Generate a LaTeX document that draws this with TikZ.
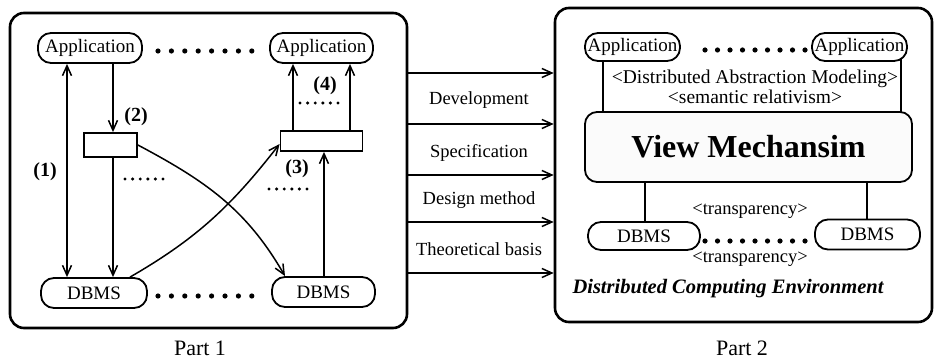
\documentclass[tikz,border=0pt]{standalone}
\usepackage{fontspec}
\setmainfont{Liberation Serif}
\usetikzlibrary{arrows.meta,backgrounds}
\begin{document}
\begin{tikzpicture}[x=1pt,y=-1pt,
  pill/.style={draw, line width=1.8pt, rounded corners=13pt, inner sep=0pt, fill=white,
    minimum height=30pt, font=\fontsize{19}{21}\selectfont},
  outer/.style={draw, line width=2.6pt, rounded corners=14pt, inner sep=0pt},
  plainbox/.style={draw, line width=1.8pt, inner sep=0pt},
  arr/.style={line width=1.5pt, -{Straight Barb[length=10pt,width=9pt,line width=1.5pt]}},
  dblarr/.style={line width=1.5pt, {Straight Barb[length=10pt,width=9pt,line width=1.5pt]}-{Straight Barb[length=10pt,width=9pt,line width=1.5pt]}},
  conn/.style={line width=2.2pt},
  bigdots/.style={line width=5.2pt, line cap=round, dash pattern=on 0pt off 13.4pt},
  bigdotsb/.style={line width=5.2pt, line cap=round, dash pattern=on 0pt off 12.5pt},
  smalldots/.style={line width=3.4pt, line cap=round, dash pattern=on 0pt off 7.6pt},
  lbl/.style={font=\fontsize{18.5}{20}\selectfont, inner sep=0pt},
  num/.style={font=\bfseries\fontsize{20}{22}\selectfont, inner sep=0pt},
]
\useasboundingbox (0,0) rectangle (937,361);

% outer boxes
\node[outer, minimum width=397pt, minimum height=315pt] (p1) at (208.5,170.5) {};
\node[outer, minimum width=377pt, minimum height=314pt] (p2) at (743.5,165) {};
\node[font=\fontsize{22}{24}\selectfont, inner sep=0pt] (part1) at (200,348) {Part 1};
\node[font=\fontsize{22}{24}\selectfont, inner sep=0pt] (part2) at (742,348) {Part 2};

% ---------- Part 1 ----------
\node[pill, minimum width=104pt] (a1) at (90,48) {Application};
\node[pill, minimum width=103pt] (a2) at (321.5,48) {Application};
\node[pill, minimum width=106pt] (d1) at (94,293) {DBMS};
\node[pill, minimum width=103pt] (d2) at (323.5,292) {DBMS};
\node[plainbox, minimum width=53pt, minimum height=24pt] (r1) at (110.5,145) {};
\node[plainbox, minimum width=82pt, minimum height=20pt] (r2) at (321.5,141) {};

\draw[bigdots] (158,51) -- (265,51);
\draw[bigdots] (158,296) -- (265,296);

\draw[dblarr] (a1.south -| 67,0) -- (d1.north -| 67,0);
\draw[arr] (a1.south -| 113,0) -- (r1.north -| 113,0);
\draw[arr] (r1.south -| 113,0) -- (d1.north -| 113,0);
\draw[arr] (r1.east) to[out=-28,in=120] (d2.north -| 285,0);
\draw[arr] (d1.north -| 130,0) to[out=30,in=-128] ([yshift=-3pt]r2.west);
\draw[arr] (d2.north -| 324,0) -- (r2.south -| 324,0);
\draw[arr] (r2.north -| 293,0) -- (a2.south -| 293,0);
\draw[arr] (r2.north -| 350,0) -- (a2.south -| 350,0);

\node[num] (n1) at (45,172) {(1)};
\node[num] (n2) at (136,117) {(2)};
\node[num] (n3) at (297,169) {(3)};
\node[num] (n4) at (325,86) {(4)};
\draw[smalldots] (125,179) -- (163,179);
\draw[smalldots] (300,103) -- (338,103);
\draw[smalldots] (269,189) -- (307,189);

% ---------- middle arrows ----------
\foreach \yy in {73,124,175,222,273}
  \draw[arr] (p1.east |- 0,\yy) -- (p2.west |- 0,\yy);
\node[lbl] (l1) at (479,100) {Development};
\node[lbl] (l2) at (479,153) {Specification};
\node[lbl] (l3) at (479,200) {Design method};
\node[lbl] (l4) at (479,249) {Theoretical basis};

% ---------- Part 2 ----------
\node[pill, minimum width=95pt, minimum height=28pt] (a3) at (632.5,47) {Application};
\node[pill, minimum width=95pt, minimum height=28pt] (a4) at (859.5,47) {Application};
\node[draw, line width=1.8pt, rounded corners=12pt, fill=gray!3, minimum width=327pt,
  minimum height=70pt, font=\bfseries\fontsize{32}{34}\selectfont] (vm) at (748.5,147) {View Mechansim};
\node[pill, minimum width=112pt, minimum height=28pt] (d3) at (644,236) {DBMS};
\node[pill, minimum width=105pt, minimum height=30pt] (d4) at (867.5,234.5) {DBMS};

\begin{scope}[on background layer]
\draw[conn] (a3.center -| 603,0) -- (vm.center -| 603,0);
\draw[conn] (a4.center -| 901,0) -- (vm.center -| 901,0);
\draw[conn] (vm.center -| 645,0) -- (d3.center -| 645,0);
\draw[conn] (vm.center -| 867,0) -- (d4.center -| 867,0);
\end{scope}

\draw[bigdotsb] (705,50) -- (805,50);
\draw[bigdotsb] (705,241) -- (805,241);

\node[font=\fontsize{19.5}{21}\selectfont, inner sep=0pt] (t1) at (755,79) {<Distributed Abstraction Modeling>};
\node[font=\fontsize{19.5}{21}\selectfont, inner sep=0pt] (t2) at (755,97) {<semantic relativism>};
\node[font=\fontsize{18.5}{20}\selectfont, inner sep=0pt] (tr1) at (750,211) {<transparency>};
\node[font=\fontsize{18.5}{20}\selectfont, inner sep=0pt] (tr2) at (750,259) {<transparency>};
\node[font=\bfseries\itshape\fontsize{20.5}{22}\selectfont, inner sep=0pt] (dce) at (728,289) {Distributed Computing Environment};
\end{tikzpicture}
\end{document}
